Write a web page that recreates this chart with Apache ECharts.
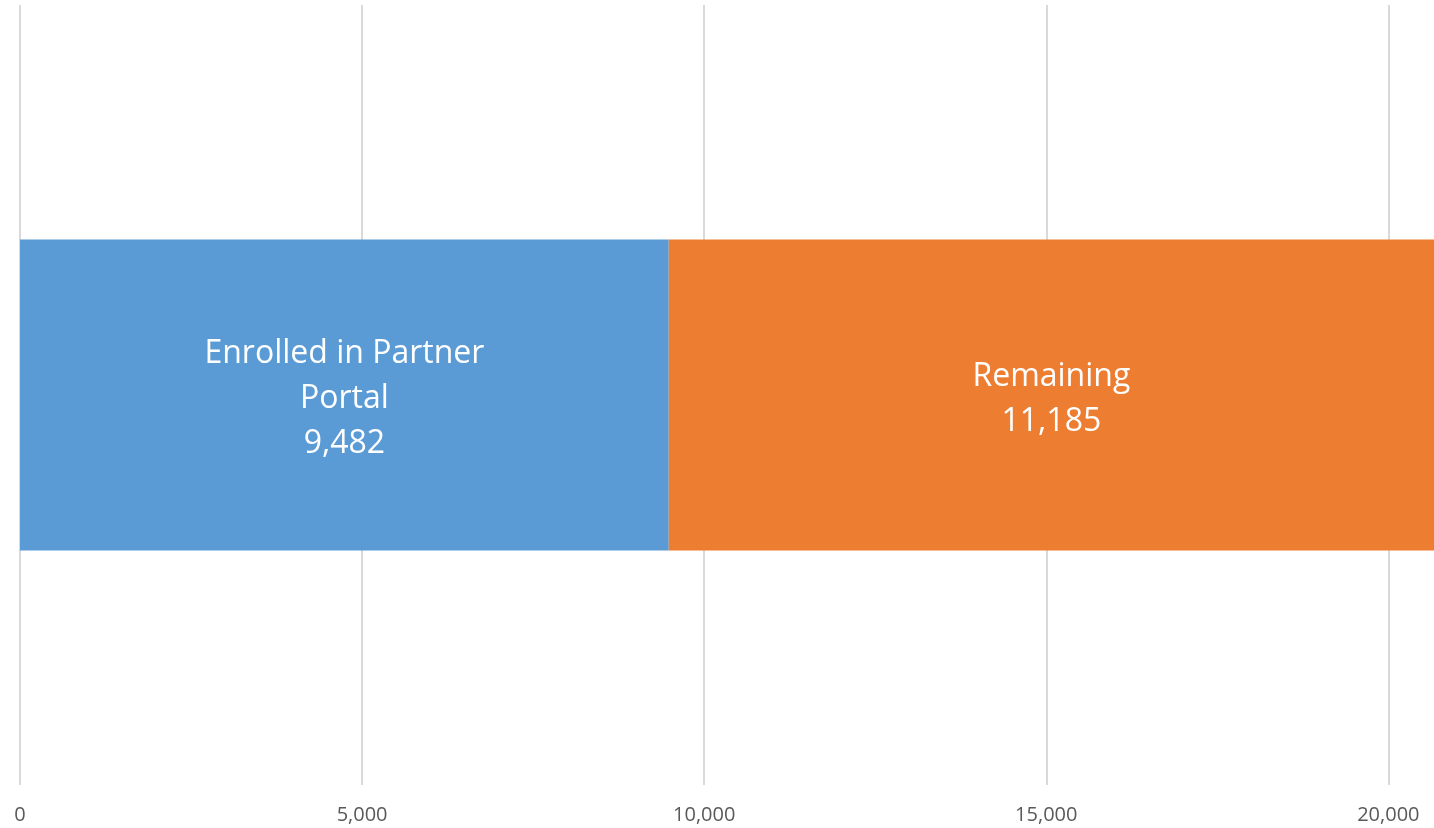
<!DOCTYPE html>
<html>
<head>
    <meta charset="utf-8">
    <title>Partner Portal</title>
    <script src="https://cdn.jsdelivr.net/npm/echarts@6/dist/echarts.min.js"></script>
    <style>
        html, body { margin: 0; padding: 0; background: #fff; }
        #main { width: 1434px; height: 828px; }
    </style>
</head>
<body>
<div id="main"></div>
<script>
    // data
    var categories = ['Partners'];
    var seriesNames = ['Enrolled in Partner Portal', 'Remaining'];
    var seriesLabels = ['Enrolled in Partner\nPortal', 'Remaining'];
    var enrolled = [9482];
    var remaining = [11185];
    var seriesColors = ['#5b9bd5', '#ed7d31'];

    var total = enrolled[0] + remaining[0];
    var chart = echarts.init(document.getElementById('main'));

    function fmt(n) {
        return n.toLocaleString('en-US');
    }

    function makeSeries(i, values) {
        return {
            name: seriesNames[i],
            type: 'bar',
            stack: 'total',
            data: values,
            barWidth: 311,
            itemStyle: { color: seriesColors[i] },
            label: {
                show: true,
                position: 'inside',
                offset: [0, 4],
                color: '#fff',
                fontSize: 32,
                lineHeight: 45,
                fontFamily: 'Open Sans, sans-serif',
                formatter: function (p) {
                    return seriesLabels[i] + '\n' + fmt(p.value);
                }
            }
        };
    }

    var option = {
        animation: false,
        grid: { left: 20, right: 0, top: 5, bottom: 43, containLabel: false },
        xAxis: {
            type: 'value',
            min: 0,
            max: total,
            interval: 5000,
            axisLine: { show: false },
            axisTick: { show: false },
            splitLine: { showMaxLine: false, lineStyle: { color: '#d9d9d9', width: 2 } },
            axisLabel: {
                color: '#595959',
                fontSize: 20,
                margin: 20,
                fontFamily: 'Open Sans, sans-serif',
                showMaxLabel: false,
                formatter: function (v) { return fmt(v); }
            }
        },
        yAxis: {
            type: 'category',
            data: categories,
            show: false
        },
        series: [makeSeries(0, enrolled), makeSeries(1, remaining)]
    };

    chart.setOption(option);
</script>
</body>
</html>
